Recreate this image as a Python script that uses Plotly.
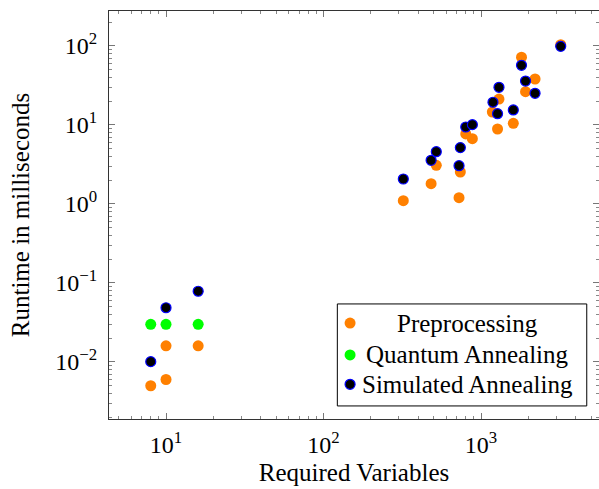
import plotly.graph_objects as go

# ---- data ----
pre_x = [8, 10, 10, 16, 321, 482, 520, 725, 739, 800, 881, 1180, 1300, 1273, 1603, 1807, 1917, 2203, 3206]
pre_y = [0.005, 0.006, 0.016, 0.016, 1.10, 1.81, 3.09, 1.20, 2.54, 7.7, 6.7, 14.6, 21.3, 8.9, 10.5, 72, 26.4, 38.2, 104]

qa_x = [8, 10, 16]
qa_y = [0.03, 0.03, 0.03]

sa_x = [8, 10, 16, 321, 482, 520, 725, 739, 800, 881, 1191, 1300, 1273, 1603, 1807, 1917, 2203, 3206]
sa_y = [0.0101, 0.0486, 0.0786, 2.07, 3.57, 4.59, 3.05, 5.17, 9.43, 10.1, 19.4, 30, 13.9, 15.5, 57, 36, 25.2, 99]

series_names = ["Preprocessing", "Quantum Annealing", "Simulated Annealing"]

x_tick_vals = [10, 100, 1000]
x_tick_text = ["10<sup>1</sup>", "10<sup>2</sup>", "10<sup>3</sup>"]
y_tick_vals = [0.01, 0.1, 1, 10, 100]
y_tick_text = ["10<sup>\u22122</sup>", "10<sup>\u22121</sup>", "10<sup>0</sup>", "10<sup>1</sup>", "10<sup>2</sup>"]

x_title = "Required Variables"
y_title = "Runtime in milliseconds"

# ---- styles ----
ORANGE = "#FF8000"
GREEN = "#00FF00"
FONT = "Liberation Serif"

def minor_vals(lo, hi):
    out = []
    for e in range(lo, hi + 1):
        for m in range(2, 10):
            out.append(m * 10 ** e)
    return out

fig = go.Figure()
fig.add_trace(go.Scatter(x=pre_x, y=pre_y, mode="markers", name=series_names[0],
                         marker=dict(color=ORANGE, size=11, line=dict(width=0))))
fig.add_trace(go.Scatter(x=qa_x, y=qa_y, mode="markers", name=series_names[1],
                         marker=dict(color=GREEN, size=11, line=dict(width=0))))
fig.add_trace(go.Scatter(x=sa_x, y=sa_y, mode="markers", name=series_names[2],
                         marker=dict(color="black", size=10, line=dict(width=1.2, color="blue"))))

# custom legend (centered labels like pgfplots)
leg_marker_x = 0.492
leg_rows = [0.235, 0.157, 0.085]
leg_styles = [dict(color=ORANGE, size=11, line=dict(width=0)),
              dict(color=GREEN, size=11, line=dict(width=0)),
              dict(color="black", size=10, line=dict(width=1.2, color="blue"))]
for name, yy, st in zip(series_names, leg_rows, leg_styles):
    fig.add_trace(go.Scatter(x=[leg_marker_x], y=[yy], mode="markers", marker=st,
                             xaxis="x2", yaxis="y2", showlegend=False, hoverinfo="skip"))
    fig.add_annotation(x=0.731, y=yy, xref="paper", yref="paper", text=name,
                       showarrow=False, xanchor="center", yanchor="middle",
                       font=dict(family=FONT, size=25, color="black"))

fig.add_shape(type="rect", xref="paper", yref="paper", x0=0.466, x1=0.975, y0=0.032, y1=0.282,
              line=dict(color="black", width=1), fillcolor="rgba(0,0,0,0)", layer="above")

axis_common = dict(
    type="log", showgrid=False, zeroline=False, automargin=False,
    showline=True, linecolor="#333", linewidth=1, mirror="allticks",
    ticks="inside", ticklen=6, tickcolor="#777", tickwidth=1,
    tickfont=dict(family=FONT, size=24, color="black"),
    tickmode="array",
)

fig.update_layout(
    width=599, height=489,
    margin=dict(l=109, r=0, t=11, b=70),
    plot_bgcolor="white", paper_bgcolor="white",
    showlegend=False,
    font=dict(family=FONT, color="black"),
    xaxis=dict(**axis_common, range=[0.638, 3.749], tickvals=x_tick_vals, ticktext=x_tick_text,
               ticklabelstandoff=4,
               minor=dict(ticks="inside", ticklen=3, tickcolor="#888", tickmode="array",
                          tickvals=minor_vals(0, 3), showgrid=False),
               title=dict(text=x_title, font=dict(family=FONT, size=25), standoff=6)),
    yaxis=dict(**axis_common, range=[-2.722, 2.443], tickvals=y_tick_vals, ticktext=y_tick_text,
               ticklabelstandoff=6,
               minor=dict(ticks="inside", ticklen=3, tickcolor="#888", tickmode="array",
                          tickvals=minor_vals(-3, 2), showgrid=False),
               title=dict(text=y_title, font=dict(family=FONT, size=25), standoff=18)),
    xaxis2=dict(overlaying="x", range=[0, 1], visible=False),
    yaxis2=dict(overlaying="y", range=[0, 1], visible=False),
)

fig.write_html("out.html", config={"displayModeBar": False},
               post_script="document.body.style.margin='0px';document.body.style.overflow='hidden';")
